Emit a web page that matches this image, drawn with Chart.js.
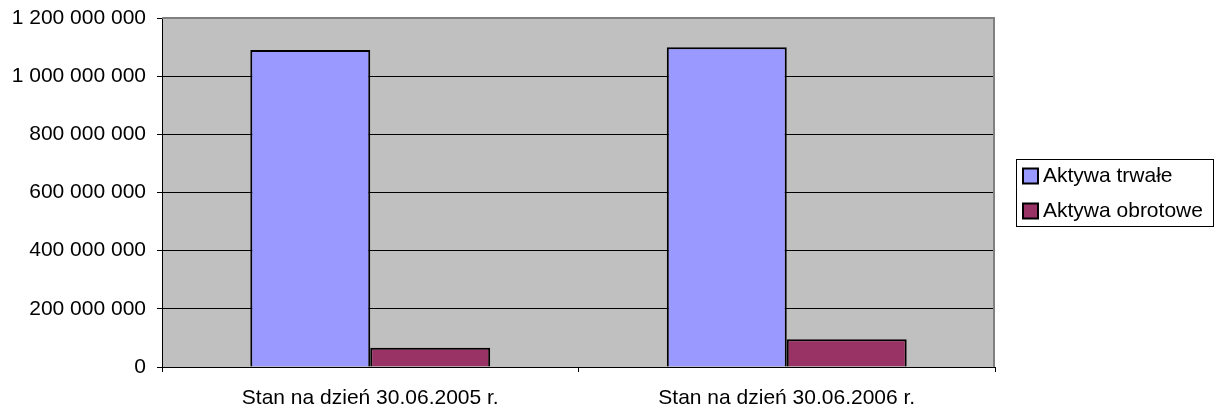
<!DOCTYPE html>
<html>
<head>
<meta charset="utf-8">
<script src="https://cdn.jsdelivr.net/npm/chart.js@4.4.1/dist/chart.umd.min.js"></script>
<style>
    html, body { margin: 0; padding: 0; background: #fff; }
</style>
</head>
<body>
<canvas id="chartBar" width="1215" height="410"></canvas>
<script>
// Data
const categories = ['Stan na dzień 30.06.2005 r.', 'Stan na dzień 30.06.2006 r.'];
const seriesNames = ['Aktywa trwałe', 'Aktywa obrotowe'];
const aktywaTrwale = [1090000000, 1099000000];
const aktywaObrotowe = [66000000, 95000000];
const yMin = 0;
const yMax = 1200000000;
const yStep = 200000000;

// "1 200 000 000"
function fmt(v) {
    return String(v).replace(/\B(?=(\d{3})+(?!\d))/g, ' ');
}

Chart.defaults.font.family = "'Liberation Sans', Arial, sans-serif";
Chart.defaults.font.size = 21;
Chart.defaults.color = '#000';

// gray plot area, its border and the legend frame
const plotFrame = {
    id: 'plotFrame',
    beforeDraw(chart) {
        const { ctx, chartArea: a } = chart;
        ctx.save();
        ctx.fillStyle = '#c0c0c0';
        ctx.fillRect(a.left, a.top, a.right - a.left, a.bottom - a.top);
        ctx.restore();
    },
    beforeDatasetsDraw(chart) {
        const { ctx, chartArea: a } = chart;
        ctx.save();
        ctx.strokeStyle = '#808080';
        ctx.lineWidth = 2;
        ctx.beginPath();
        ctx.moveTo(a.left, a.top);
        ctx.lineTo(a.right - 1, a.top);
        ctx.lineTo(a.right - 1, a.bottom);
        ctx.stroke();
        ctx.restore();
    },
    afterDraw(chart) {
        const ctx = chart.ctx;
        ctx.save();
        ctx.strokeStyle = '#000';
        ctx.lineWidth = 1;
        ctx.strokeRect(1016.5, 159.5, 197, 67);
        ctx.restore();
    }
};

// keep the legend at a fixed width and place it like the original
const legendPlace = {
    id: 'legendPlace',
    beforeInit(chart) {
        const fit = chart.legend.fit;
        chart.legend.fit = function () {
            fit.call(this);
            this.width = 220;
        };
    },
    afterLayout(chart) {
        const lg = chart.legend;
        lg.left = 1014.5;
        lg.right = 1215;
        lg.top = 151.5;
        lg.bottom = 410;
    }
};

const cvs = document.getElementById('chartBar');
const chart = new Chart(cvs, {
    type: 'bar',
    data: {
        labels: categories,
        datasets: [{
            label: seriesNames[0],
            data: aktywaTrwale,
            backgroundColor: '#9999ff',
            borderColor: '#000',
            borderWidth: 2
        }, {
            label: seriesNames[1],
            data: aktywaObrotowe,
            backgroundColor: '#993366',
            borderColor: '#000',
            borderWidth: 2
        }]
    },
    plugins: [plotFrame, legendPlace],
    options: {
        responsive: false,
        animation: false,
        devicePixelRatio: 1,
        layout: {
            padding: { top: 18, left: 0, right: 0, bottom: 0 }
        },
        datasets: {
            bar: {
                categoryPercentage: 0.576,
                barPercentage: 1
            }
        },
        scales: {
            x: {
                afterFit: (s) => {
                    s.height = 43;
                    s.paddingLeft = 0;
                    s.paddingRight = 0;
                },
                grid: {
                    drawOnChartArea: false,
                    drawTicks: true,
                    tickLength: 5,
                    color: '#000'
                },
                border: { color: '#000', width: 1 },
                ticks: { padding: 14, maxRotation: 0 }
            },
            y: {
                min: yMin,
                max: yMax,
                afterFit: (s) => {
                    s.width = 162;
                    s.paddingTop = 0;
                    s.paddingBottom = 0;
                },
                grid: {
                    color: (c) => (c.tick && c.tick.value === yMax ? 'rgba(0,0,0,0)' : '#000'),
                    tickColor: '#000',
                    tickLength: 5
                },
                border: { color: '#000', width: 1 },
                ticks: {
                    stepSize: yStep,
                    padding: 11,
                    callback: (v) => fmt(v)
                }
            }
        },
        plugins: {
            legend: {
                position: 'right',
                align: 'start',
                labels: {
                    usePointStyle: true,
                    pointStyle: 'rect',
                    boxWidth: 4,
                    boxHeight: 15,
                    padding: 14,
                    font: { size: 21 }
                }
            },
            tooltip: { enabled: false }
        }
    }
});
</script>
</body>
</html>
